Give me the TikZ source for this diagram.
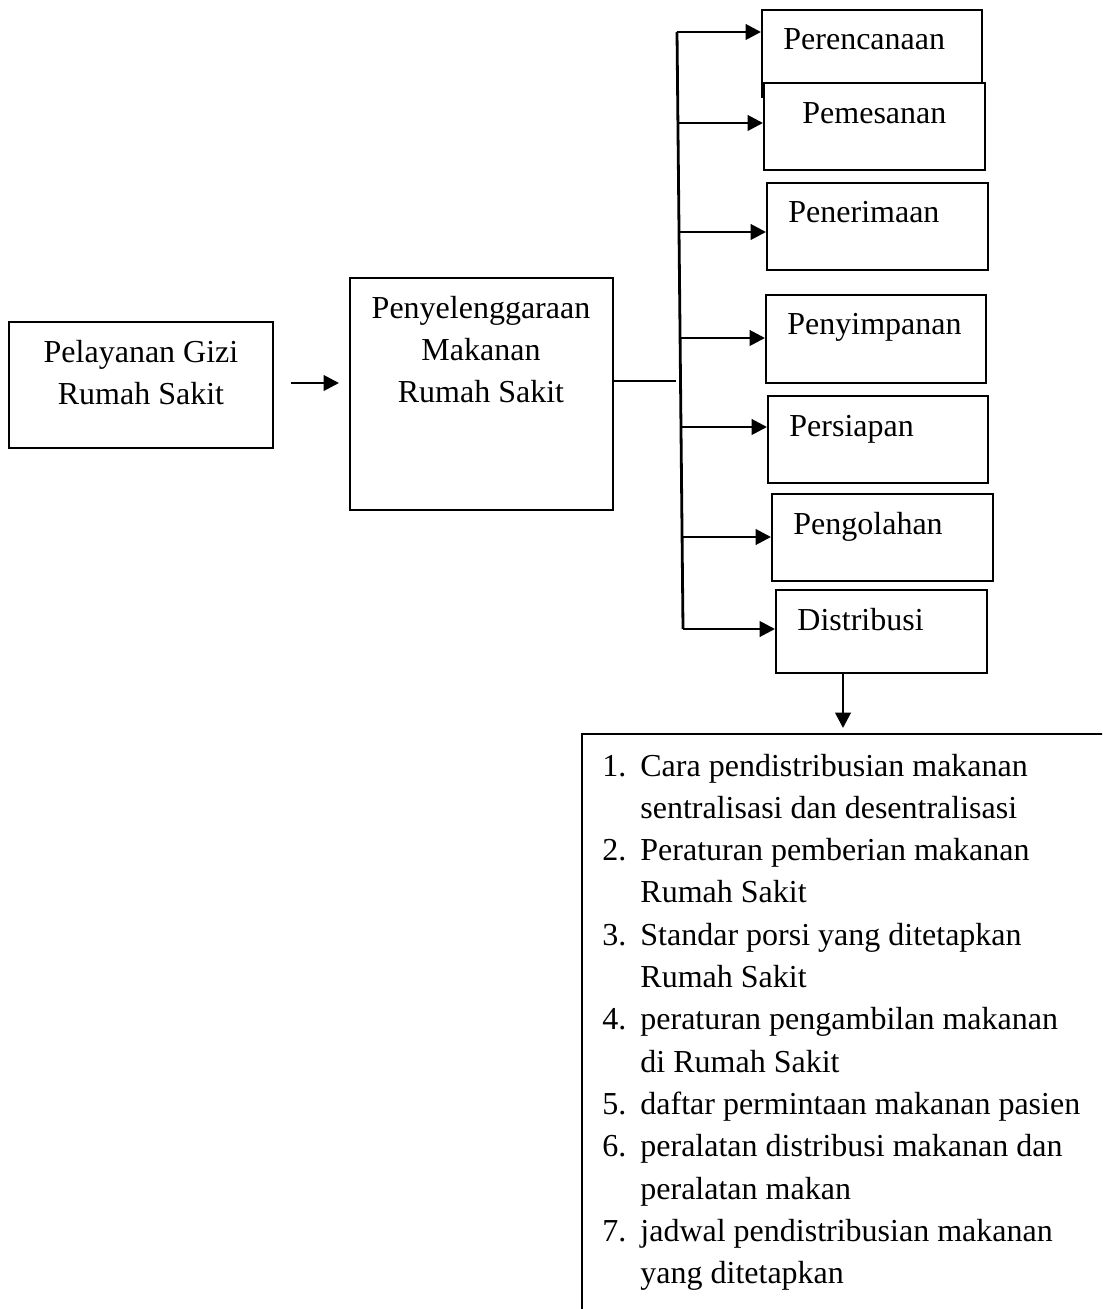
\documentclass[tikz,border=0pt]{standalone}
\usepackage{fontspec}
\setmainfont{Liberation Serif}
\usepackage{tikz}
\usetikzlibrary{arrows.meta,fit}

\begin{document}
\begin{tikzpicture}[x=0.5pt,y=-0.5pt,
	>={Triangle[length=7.7pt,width=7.7pt]},
	box/.style={draw,line width=1pt,fill=white,inner sep=0pt},
	lbl/.style={font=\fontsize{16}{21.15}\selectfont,inner sep=0pt},
	link/.style={line width=1.4pt}]

	%Page is 1102 x 1309, the list box runs off its right and bottom edge
	\useasboundingbox (0,0) rectangle (1102,1309);
	\clip (0,0) rectangle (1102,1309);

	%Left boxes
	\node[box, fit={(9,322) (273,448)}] (gizi) {};
	\node[box, fit={(350,278) (613,510)}] (pmrs) {};
	%base of a node with several lines is the last line
	\node[lbl, align=center, anchor=base] (gizi_text) at (141,405) {Pelayanan Gizi\\Rumah Sakit};
	\node[lbl, align=center, anchor=base] (pmrs_text) at (481,403) {Penyelenggaraan\\Makanan\\Rumah Sakit};

	%Steps, each box drawn over the one above
	\node[box, fit={(762,10) (982,97)}] (p1) {};
	\node[box, fit={(764,83) (985,170)}] (p2) {};
	\node[box, fit={(767,183) (988,270)}] (p3) {};
	\node[box, fit={(766,295) (986,383)}] (p4) {};
	\node[box, fit={(768,396) (988,483)}] (p5) {};
	\node[box, fit={(772,494) (993,581)}] (p6) {};
	\node[box, fit={(776,590) (987,673)}] (p7) {};

	\draw node[lbl, anchor=base west] (p1_text) at (783,50) {Perencanaan};
	\draw node[lbl, anchor=base west] (p2_text) at (802,124) {Pemesanan};
	\draw node[lbl, anchor=base west] (p3_text) at (788,223) {Penerimaan};
	\draw node[lbl, anchor=base west] (p4_text) at (787,335) {Penyimpanan};
	\draw node[lbl, anchor=base west] (p5_text) at (789,437) {Persiapan};
	\draw node[lbl, anchor=base west] (p6_text) at (793,534) {Pengolahan};
	\draw node[lbl, anchor=base west] (p7_text) at (797,630) {Distribusi};

	%List box under Distribusi
	\node[box, fit={(582,734) (1200,1400)}] (list) {};
	\node[lbl, anchor=base west] (list_text) at (602,776) {%
		\begin{tabular}[t]{@{}l@{\hspace{7pt}}l@{}}
		1. & Cara pendistribusian makanan\\
		   & sentralisasi dan desentralisasi\\
		2. & Peraturan pemberian makanan\\
		   & Rumah Sakit\\
		3. & Standar porsi yang ditetapkan\\
		   & Rumah Sakit\\
		4. & peraturan pengambilan makanan\\
		   & di Rumah Sakit\\
		5. & daftar permintaan makanan pasien\\
		6. & peralatan distribusi makanan dan\\
		   & peralatan makan\\
		7. & jadwal pendistribusian makanan\\
		   & yang ditetapkan
		\end{tabular}};

	%Points on the bus line
	\coordinate (a0) at (0,383);
	\coordinate (b0) at (676,381);
	\coordinate (b1) at (677,32);
	\coordinate (b2) at (677.9,123);
	\coordinate (b3) at (679,232);
	\coordinate (b4) at (680,338);
	\coordinate (b5) at (681,427);
	\coordinate (b6) at (682,537);
	\coordinate (b7) at (683,629);
	\coordinate (d0) at (843,0);

	\draw[link,->,shorten <=8.5pt,shorten >=5pt] (gizi.east |- a0) -- (pmrs.west |- a0);
	\draw[link] (pmrs.east |- b0) -- (b0);
	\draw[link] (b1) -- (b7);
	\draw[link,->] (b1) -- (b1 -| p1.west);
	\draw[link,->] (b2) -- (b2 -| p2.west);
	\draw[link,->] (b3) -- (b3 -| p3.west);
	\draw[link,->] (b4) -- (b4 -| p4.west);
	\draw[link,->] (b5) -- (b5 -| p5.west);
	\draw[link,->] (b6) -- (b6 -| p6.west);
	\draw[link,->] (b7) -- (b7 -| p7.west);
	\draw[link,->,shorten >=2.5pt] (p7.south -| d0) -- (list.north -| d0);

\end{tikzpicture}
\end{document}
